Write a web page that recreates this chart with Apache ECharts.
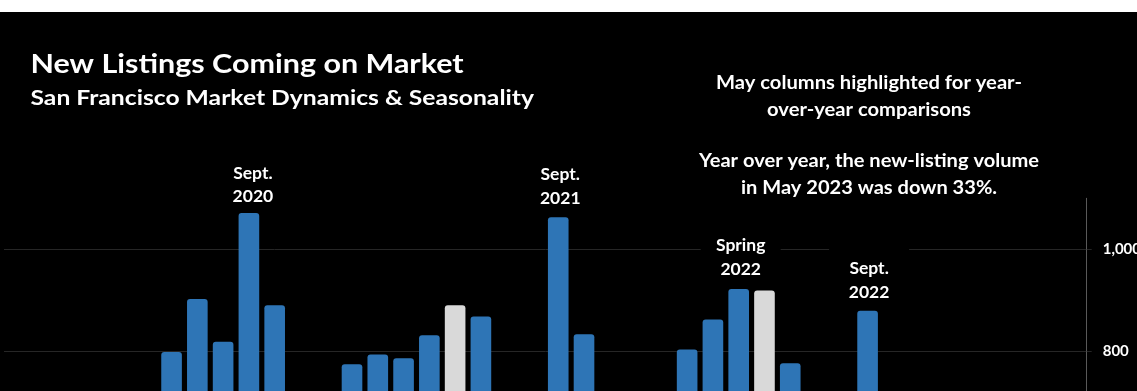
<!DOCTYPE html>
<html>
<head>
<meta charset="utf-8">
<title>New Listings Coming on Market</title>
<script src="https://cdn.jsdelivr.net/npm/echarts@6/dist/echarts.min.js"></script>
<style>
  html, body { margin: 0; padding: 0; background: #ffffff; }
  #chart { position: absolute; left: 0; top: 12px; width: 1137px; height: 379px; background: #000000; }
</style>
</head>
<body>
<div id="chart"></div>
<script>
// Monthly new listings, San Francisco
const months = [
  'Dec 2019',
  'Jan 2020', 'Feb 2020', 'Mar 2020', 'Apr 2020', 'May 2020', 'Jun 2020',
  'Jul 2020', 'Aug 2020', 'Sep 2020', 'Oct 2020', 'Nov 2020', 'Dec 2020',
  'Jan 2021', 'Feb 2021', 'Mar 2021', 'Apr 2021', 'May 2021', 'Jun 2021',
  'Jul 2021', 'Aug 2021', 'Sep 2021', 'Oct 2021', 'Nov 2021', 'Dec 2021',
  'Jan 2022', 'Feb 2022', 'Mar 2022', 'Apr 2022', 'May 2022', 'Jun 2022',
  'Jul 2022', 'Aug 2022', 'Sep 2022', 'Oct 2022', 'Nov 2022', 'Dec 2022',
  'Jan 2023', 'Feb 2023', 'Mar 2023', 'Apr 2023', 'May 2023'
];

const newListings = [
  220,
  560, 680, 560, 420, 640, 798,
  902, 818, 1071, 890, 560, 330,
  774, 793, 786, 831, 890, 868,
  690, 700, 1063, 833, 520, 250,
  610, 803, 862, 922, 919, 776,
  610, 700, 879, 700, 450, 200,
  420, 540, 640, 680, 616
];

// Month whose columns are highlighted for year-over-year comparison
const highlightMonth = 'May';

// Callout labels placed above specific columns
const calloutMonths = ['Sep 2020', 'Sep 2021', 'Apr 2022', 'Sep 2022'];
const calloutTexts = ['Sept.\n2020', 'Sept.\n2021', 'Spring\n2022', 'Sept.\n2022'];

const yTicks = { min: 0, max: 1100, interval: 200 };

const titleText = 'New Listings Coming on Market';
const subtitleText = 'San Francisco Market Dynamics & Seasonality';
const noteTop = 'May columns highlighted for year-\nover-year comparisons';
const noteBottom = 'Year over year, the new-listing volume\nin May 2023 was down 33%.';

// ---- styling ----
const FONT = 'Lato, "Open Sans", sans-serif';
const BLUE = '#2E75B6';
const GREY = '#D9D9D9';
const GRID = '#262626';

// per-callout placement tweaks (gap above the column, horizontal nudge)
const calloutPlacement = {
  'Sep 2020': { distance: 4.5, dx: 4 },
  'Sep 2021': { distance: 7.5, dx: 2 },
  'Apr 2022': { distance: 8, dx: 2 },
  'Sep 2022': { distance: 7, dx: 1.5 }
};

const barData = newListings.map((v, i) => {
  const m = months[i];
  const item = {
    value: v,
    itemStyle: { color: m.startsWith(highlightMonth) ? GREY : BLUE }
  };
  const ci = calloutMonths.indexOf(m);
  if (ci >= 0) {
    const p = calloutPlacement[m];
    item.label = {
      show: true,
      position: 'top',
      distance: p.distance,
      offset: [p.dx, 0],
      formatter: calloutTexts[ci],
      color: '#ffffff',
      fontFamily: FONT,
      fontWeight: 'bold',
      fontSize: 17.5,
      lineHeight: 23.5,
      width: 80,
      align: 'center',
      padding: [10, 0, 0, 0],
      backgroundColor: '#000000'
    };
  }
  return item;
});

const chart = echarts.init(document.getElementById('chart'), null, { renderer: 'canvas' });

chart.setOption({
  backgroundColor: '#000000',
  animation: false,
  grid: {
    left: 4,
    right: 50.3,
    top: 186.3,
    bottom: -367.3,
    containLabel: false,
    outerBoundsMode: 'none'
  },
  xAxis: {
    type: 'category',
    data: months,
    boundaryGap: true,
    axisLine: { show: true, lineStyle: { color: '#595959' } },
    axisTick: { show: false },
    axisLabel: { color: '#ffffff', fontFamily: FONT, fontSize: 12 },
    splitLine: { show: false }
  },
  yAxis: {
    type: 'value',
    position: 'right',
    min: yTicks.min,
    max: yTicks.max,
    interval: yTicks.interval,
    axisLine: { show: true, lineStyle: { color: '#595959', width: 1 } },
    axisTick: { show: true, inside: false, length: 5, lineStyle: { color: GRID } },
    splitLine: { show: true, showMaxLine: false, lineStyle: { color: GRID, width: 1 } },
    axisLabel: {
      color: '#ffffff',
      fontFamily: FONT,
      fontWeight: 'bold',
      fontSize: 15,
      margin: 16,
      padding: [3, 0, 0, 0],
      showMaxLabel: false,
      formatter: v => v.toLocaleString('en-US')
    }
  },
  series: [{
    type: 'bar',
    data: barData,
    barCategoryGap: '20%',
    itemStyle: { borderRadius: [3, 3, 0, 0] },
    z: 3
  }],
  graphic: [
    {
      type: 'text', x: 30.5, y: 52, scaleX: 1.15, z: 10,
      style: { text: titleText, fill: '#ffffff', font: 'bold 26.5px ' + FONT, align: 'left', verticalAlign: 'middle' }
    },
    {
      type: 'text', x: 30.5, y: 86.5, scaleX: 1.175, z: 10,
      style: { text: subtitleText, fill: '#ffffff', font: 'bold 21px ' + FONT, align: 'left', verticalAlign: 'middle' }
    },
    {
      type: 'text', x: 869, y: 57.5, scaleX: 1.12, z: 10,
      style: { text: noteTop, fill: '#ffffff', font: 'bold 18px ' + FONT, lineHeight: 27, align: 'center', verticalAlign: 'top' }
    },
    {
      type: 'text', x: 869, y: 135.5, scaleX: 1.115, z: 10,
      style: { text: noteBottom, fill: '#ffffff', font: 'bold 18px ' + FONT, lineHeight: 27, align: 'center', verticalAlign: 'top' }
    }
  ]
});
</script>
</body>
</html>
